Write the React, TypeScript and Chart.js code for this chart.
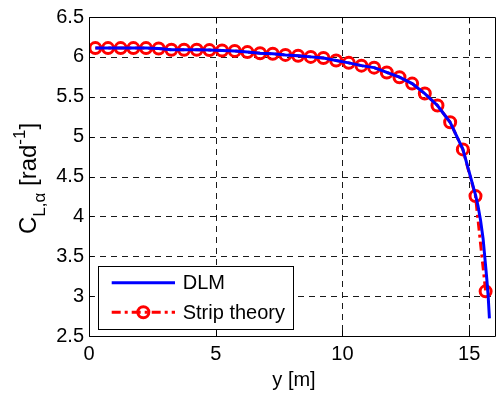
import React, { useEffect, useRef } from "react";
import { Chart, registerables } from "chart.js";

Chart.register(...registerables);

// ---- data ----
const stripSpan = [
  0.25, 0.75, 1.25, 1.75, 2.25, 2.75, 3.25, 3.75, 4.25, 4.75, 5.25, 5.75,
  6.25, 6.75, 7.25, 7.75, 8.25, 8.75, 9.25, 9.75, 10.25, 10.75, 11.25, 11.75,
  12.25, 12.75, 13.25, 13.75, 14.25, 14.75, 15.25, 15.65,
];
const stripCla = [
  6.11, 6.11, 6.11, 6.11, 6.11, 6.105, 6.09, 6.09, 6.09, 6.085, 6.08, 6.075,
  6.06, 6.045, 6.04, 6.025, 6.015, 6.0, 5.985, 5.955, 5.925, 5.89, 5.865, 5.805,
  5.745, 5.665, 5.54, 5.39, 5.18, 4.84, 4.254, 3.06,
];
const dlmSpan = [
  0.25, 0.75, 1.25, 1.75, 2.25, 2.75, 3.25, 3.75, 4.25, 4.75, 5.25, 5.75,
  6.25, 6.75, 7.25, 7.75, 8.25, 8.75, 9.25, 9.75, 10.25, 10.75, 11.25, 11.75,
  12.25, 12.75, 13.25, 13.75, 14.25, 14.75, 15.25, 15.35, 15.45, 15.55, 15.62,
  15.7, 15.75, 15.8,
];
const dlmCla = [
  6.11, 6.11, 6.11, 6.11, 6.11, 6.105, 6.09, 6.09, 6.09, 6.085, 6.08, 6.075,
  6.06, 6.045, 6.04, 6.025, 6.015, 6.0, 5.985, 5.955, 5.925, 5.89, 5.865, 5.805,
  5.745, 5.665, 5.54, 5.39, 5.18, 4.845, 4.27, 4.13, 3.95, 3.72, 3.48,
  3.2, 3.0, 2.72,
];
const xTickValues = [0, 5, 10, 15];
const yTickValues = [2.5, 3, 3.5, 4, 4.5, 5, 5.5, 6, 6.5];
const xLimits = [0, 16];
const yLimits = [2.5, 6.5];
const seriesNames = ["DLM", "Strip theory"];
const xTitle = "y [m]";

const FONT = "'Liberation Sans', Arial, sans-serif";
const BLUE = "rgb(0,0,255)";
const RED = "rgb(255,0,0)";
const DASHDOT = [9, 4, 3, 4];
const GRID_DASH = [6, 5];

const gridPlugin = {
  id: "dashgrid",
  beforeDatasetsDraw(chart: any) {
    const { ctx, chartArea: ca, scales } = chart;
    const xs = scales.x;
    const ys = scales.y;
    ctx.save();
    ctx.strokeStyle = "#1a1a1a";
    ctx.lineWidth = 1;
    ctx.setLineDash(GRID_DASH);
    ctx.beginPath();
    xTickValues.forEach((v) => {
      if (v <= xLimits[0] || v >= xLimits[1]) return;
      const px = Math.round(xs.getPixelForValue(v)) + 0.5;
      ctx.moveTo(px, ca.top);
      ctx.lineTo(px, ca.bottom);
    });
    ctx.stroke();
    ctx.beginPath();
    yTickValues.forEach((v) => {
      if (v <= yLimits[0] || v >= yLimits[1]) return;
      const py = Math.round(ys.getPixelForValue(v)) + 0.5;
      ctx.moveTo(ca.left, py);
      ctx.lineTo(ca.right, py);
    });
    ctx.stroke();
    ctx.restore();
  },
};

const overlayPlugin = {
  id: "overlay",
  afterDraw(chart: any) {
    const { ctx, chartArea: ca, scales } = chart;
    const xs = scales.x;
    const ys = scales.y;
    const L = Math.round(ca.left) + 0.5;
    const R = Math.round(ca.right) + 0.5;
    const T = Math.round(ca.top) + 0.5;
    const B = Math.round(ca.bottom) + 0.5;
    ctx.save();
    ctx.setLineDash([]);
    ctx.strokeStyle = "#000";
    ctx.lineWidth = 1;
    ctx.beginPath();
    ctx.moveTo(L, T);
    ctx.lineTo(R, T);
    ctx.lineTo(R, B);
    ctx.lineTo(L, B);
    ctx.closePath();
    ctx.stroke();
    // inward tick marks
    ctx.beginPath();
    xTickValues.forEach((v) => {
      const px = Math.round(xs.getPixelForValue(v)) + 0.5;
      ctx.moveTo(px, B);
      ctx.lineTo(px, B - 6);
      ctx.moveTo(px, T);
      ctx.lineTo(px, T + 6);
    });
    yTickValues.forEach((v) => {
      const py = Math.round(ys.getPixelForValue(v)) + 0.5;
      ctx.moveTo(L, py);
      ctx.lineTo(L + 4, py);
    });
    ctx.stroke();

    // legend box
    const bx = 98.5, by = 266.5, bw = 195, bh = 63;
    ctx.fillStyle = "#fff";
    ctx.fillRect(bx, by, bw, bh);
    ctx.strokeStyle = "#000";
    ctx.lineWidth = 1;
    ctx.strokeRect(bx, by, bw, bh);
    const lx0 = 111.7, lx1 = 175, row1 = 282.7, row2 = 312.3;
    ctx.lineWidth = 3;
    ctx.strokeStyle = BLUE;
    ctx.beginPath();
    ctx.moveTo(lx0, row1);
    ctx.lineTo(lx1, row1);
    ctx.stroke();
    ctx.strokeStyle = RED;
    ctx.setLineDash(DASHDOT);
    ctx.beginPath();
    ctx.moveTo(lx0, row2);
    ctx.lineTo(lx1, row2);
    ctx.stroke();
    ctx.setLineDash([]);
    ctx.lineWidth = 3;
    ctx.beginPath();
    ctx.arc((lx0 + lx1) / 2, row2, 5.5, 0, Math.PI * 2);
    ctx.stroke();
    ctx.fillStyle = "#000";
    ctx.font = `20px ${FONT}`;
    ctx.textAlign = "left";
    ctx.textBaseline = "middle";
    ctx.fillText(seriesNames[0], 182.7, row1 + 1);
    ctx.fillText(seriesNames[1], 182.7, row2 + 1);

    // x title
    ctx.textAlign = "center";
    ctx.textBaseline = "alphabetic";
    ctx.fillText(xTitle, 294, 386);

    // y title: C_{L,α} [rad^{-1}]
    ctx.save();
    ctx.translate(36, 234);
    ctx.rotate(-Math.PI / 2);
    ctx.textAlign = "left";
    const parts: [string, number, number][] = [
      ["C", 24, 0],
      ["L,α", 17, 9],
      [" [rad", 24, 0],
      ["-1", 17, -11],
      ["]", 24, 0],
    ];
    let cx = 0;
    parts.forEach(([t, size, dy]) => {
      ctx.font = `${size}px ${FONT}`;
      ctx.fillText(t, cx, dy);
      cx += ctx.measureText(t).width;
    });
    ctx.restore();
    ctx.restore();
  },
};

export default function App() {
  const ref = useRef<HTMLCanvasElement | null>(null);
  useEffect(() => {
    if (!ref.current) return;
    const chart = new Chart(ref.current, {
      type: "line",
      data: {
        datasets: [
          {
            label: seriesNames[0],
            data: dlmSpan.map((x, i) => ({ x, y: dlmCla[i] })),
            borderColor: BLUE,
            borderWidth: 3,
            pointRadius: 0,
            tension: 0,
            fill: false,
          },
          {
            label: seriesNames[1],
            data: stripSpan.map((x, i) => ({ x, y: stripCla[i] })),
            borderColor: RED,
            borderWidth: 3,
            borderDash: DASHDOT,
            pointRadius: 5.5,
            pointBorderWidth: 3,
            pointBorderColor: RED,
            pointBackgroundColor: "rgba(0,0,0,0)",
            tension: 0,
            fill: false,
          },
        ],
      },
      options: {
        responsive: false,
        animation: false,
        devicePixelRatio: 1,
        layout: { padding: { top: 7, right: 0, left: 0, bottom: 0 } },
        plugins: {
          legend: { display: false },
          tooltip: { enabled: false },
        },
        scales: {
          x: {
            type: "linear",
            min: xLimits[0],
            max: xLimits[1],
            afterFit: (s: any) => {
              s.height = 62;
            },
            afterBuildTicks: (s: any) => {
              s.ticks = xTickValues.map((v) => ({ value: v }));
            },
            ticks: {
              font: { family: FONT, size: 20 },
              color: "#000",
              padding: 6,
              maxRotation: 0,
            },
            grid: { display: false, drawTicks: false },
            border: { display: false },
          },
          y: {
            type: "linear",
            min: yLimits[0],
            max: yLimits[1],
            afterFit: (s: any) => {
              s.width = 89;
            },
            afterBuildTicks: (s: any) => {
              s.ticks = yTickValues.map((v) => ({ value: v }));
            },
            ticks: {
              font: { family: FONT, size: 20 },
              color: "#000",
              padding: 5,
              callback: (v: any) => String(v),
            },
            grid: { display: false, drawTicks: false },
            border: { display: false },
          },
        },
      },
      plugins: [gridPlugin, overlayPlugin],
    } as any);
    return () => chart.destroy();
  }, []);
  return (
    <div
      style={{
        position: "fixed",
        left: 0,
        top: 0,
        width: 498,
        height: 398,
        overflow: "hidden",
        background: "#fff",
      }}
    >
      <canvas
        ref={ref}
        width={503}
        height={398}
        style={{ width: 503, height: 398, display: "block" }}
      />
    </div>
  );
}
